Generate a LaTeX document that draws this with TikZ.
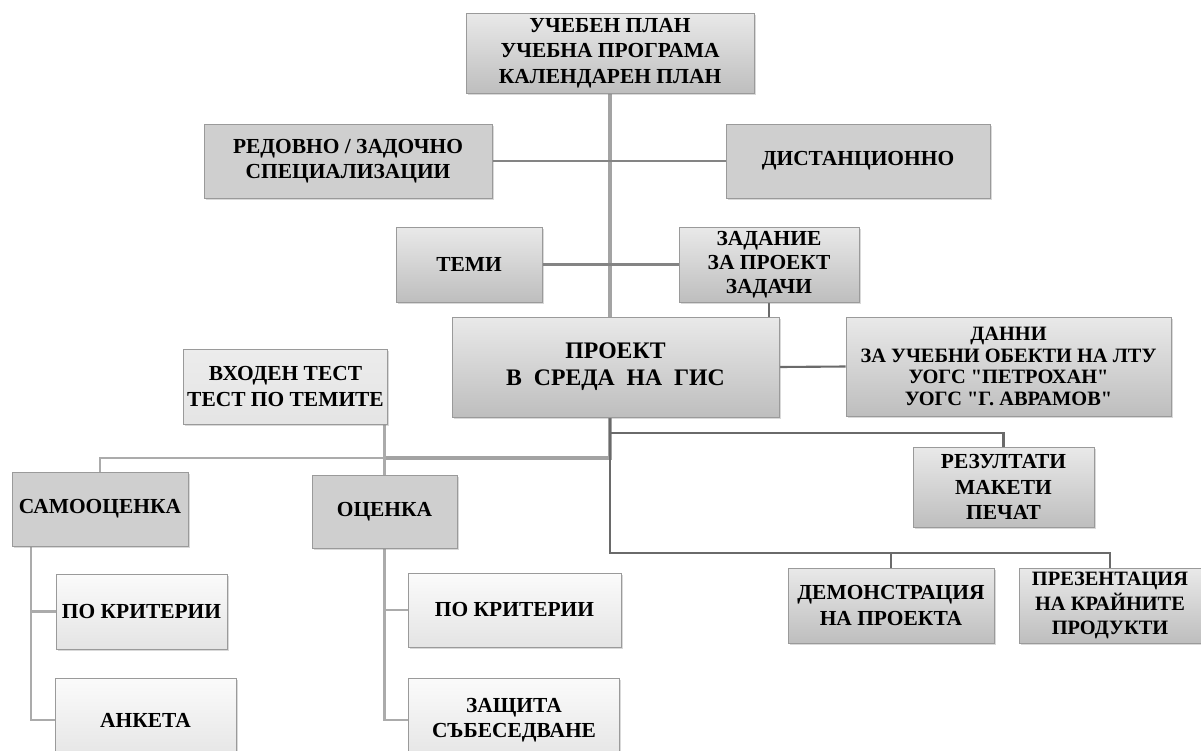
\documentclass[tikz,border=0pt]{standalone}
\usepackage{fontspec}
\setmainfont{Liberation Serif}[Ligatures=TeXOff]
\usepackage{xcolor}
\usetikzlibrary{positioning,shadows}

\definecolor{boxline}{HTML}{9A9A9A}
\definecolor{boxflat}{HTML}{CFCFCF}
\definecolor{shadetop}{HTML}{E9E9E9}
\definecolor{shadebot}{HTML}{BEBEBE}
\definecolor{lighttop}{HTML}{FBFBFB}
\definecolor{lightbot}{HTML}{E4E4E4}
\definecolor{trunkgray}{HTML}{A3A3A3}
\definecolor{linkmid}{HTML}{848484}
\definecolor{linkdark}{HTML}{6A6A6A}
\definecolor{linklight}{HTML}{ABABAB}

\pgfdeclarelayer{bg}
\pgfsetlayers{bg,main}

\begin{document}
\begin{tikzpicture}[
    x=0.02cm, y=-0.02cm,
    font=\bfseries\fontsize{12.2}{14.5}\selectfont,
    box/.style={rectangle, draw=boxline, line width=0.5pt, align=center, inner sep=2pt,
        drop shadow={shadow xshift=1pt, shadow yshift=-1pt, opacity=0.3}},
    flatbox/.style={box, fill=boxflat},
    shadebox/.style={box, top color=shadetop, bottom color=shadebot},
    lightbox/.style={box, top color=lighttop, bottom color=lightbot},
    boxsize/.style 2 args={minimum width=#1*0.02cm, minimum height=#2*0.02cm},
    trunk/.style={line width=2.4pt, trunkgray},
    link/.style={line width=1.5pt, linkmid},
    darklink/.style={line width=1.2pt, linkdark},
    lightlink/.style={line width=1.2pt, linklight}
]
\useasboundingbox (0,0) rectangle (1201,751);

% Plan and forms of study
\node[shadebox, boxsize={288}{80}] (plan) at (610,53) {УЧЕБЕН ПЛАН\\УЧЕБНА ПРОГРАМА\\КАЛЕНДАРЕН ПЛАН};
\node[flatbox, boxsize={288}{74}] (redovno) at (348,161) {РЕДОВНО / ЗАДОЧНО\\СПЕЦИАЛИЗАЦИИ};
\node[flatbox, boxsize={264}{74}] (dist) at (858,161) {ДИСТАНЦИОННО};

% Topics and assignment
\node[shadebox, boxsize={146}{75}] (temi) at (469,264.5) {ТЕМИ};
\node[shadebox, boxsize={180}{75}, font=\bfseries\fontsize{12.2}{13.5}\selectfont] (zadanie) at (769,264.5) {ЗАДАНИЕ\\ЗА ПРОЕКТ\\ЗАДАЧИ};

% Project
\node[shadebox, boxsize={327}{100}, font=\bfseries\fontsize{13.5}{15.5}\selectfont] (proekt) at (615.5,367) {ПРОЕКТ\\В\ \ СРЕДА\ \ НА\ \ ГИС};
\node[shadebox, boxsize={325}{99}, font=\bfseries\fontsize{11.6}{12.2}\selectfont] (danni) at (1008.5,366.5) {ДАННИ\\ЗА УЧЕБНИ ОБЕКТИ НА ЛТУ\\УОГС "ПЕТРОХАН"\\УОГС "Г. АВРАМОВ"};

% Tests and assessment
\node[lightbox, boxsize={197}{75}, top color=boxflat!40, bottom color=boxflat!55] (vhoden) at (285.5,386.5) {ВХОДЕН ТЕСТ\\ТЕСТ ПО ТЕМИТЕ};
\node[flatbox, boxsize={176}{74}] (samo) at (100,509) {САМООЦЕНКА};
\node[flatbox, boxsize={145}{73}] (ocenka) at (384.5,511.5) {ОЦЕНКА};
\node[lightbox, boxsize={171}{75}] (krit1) at (141.5,611.5) {ПО КРИТЕРИИ};
\node[lightbox, boxsize={181}{84}] (anketa) at (145.5,720) {АНКЕТА};
\node[lightbox, boxsize={213}{74}] (krit2) at (514.5,610) {ПО КРИТЕРИИ};
\node[lightbox, boxsize={211}{84}] (zashtita) at (514,720) {ЗАЩИТА\\СЪБЕСЕДВАНЕ};

% Results
\node[shadebox, boxsize={181}{80}] (rezultati) at (1003.5,487) {РЕЗУЛТАТИ\\МАКЕТИ\\ПЕЧАТ};
\node[shadebox, boxsize={206}{75}] (demo) at (891,605.5) {ДЕМОНСТРАЦИЯ\\НА ПРОЕКТА};
\node[shadebox, boxsize={182}{75}, font=\bfseries\fontsize{11.6}{14}\selectfont] (prez) at (1110,605.5) {ПРЕЗЕНТАЦИЯ\\НА КРАЙНИТЕ\\ПРОДУКТИ};

\coordinate (join) at (610,458);
\coordinate (r1) at (610,433);
\coordinate (r2) at (610,553);
\coordinate (sv) at (31,546);

\begin{pgfonlayer}{bg}
% Main line
\draw[trunk] (plan.south) -- (join) -- (ocenka.north |- join);
\draw[lightlink] (ocenka.north |- join) -| (samo.north);
\draw[link] (redovno.east) -- (dist.west);
\draw[link] (temi.east) -- (zadanie.west);
\draw[darklink] (zadanie.south) -- (zadanie.south |- proekt.north);
\draw[darklink] (proekt.east) -- (danni.west);
\draw[lightlink] (ocenka.north |- vhoden.east) -- (ocenka.north);

% Results branch
\draw[darklink] (plan.south |- proekt.south) -- (r2) -| (demo.north);
\draw[darklink] (r2) -| (prez.north);
\draw[darklink] (r1) -| (rezultati.north);

% Assessment branches
\draw[lightlink] (sv) |- (anketa.west);
\draw[lightlink] (krit1.west) -| (sv);
\draw[lightlink] (ocenka.south) |- (zashtita.west);
\draw[lightlink] (krit2.west) -| (ocenka.south);
\end{pgfonlayer}

\end{tikzpicture}
\end{document}
